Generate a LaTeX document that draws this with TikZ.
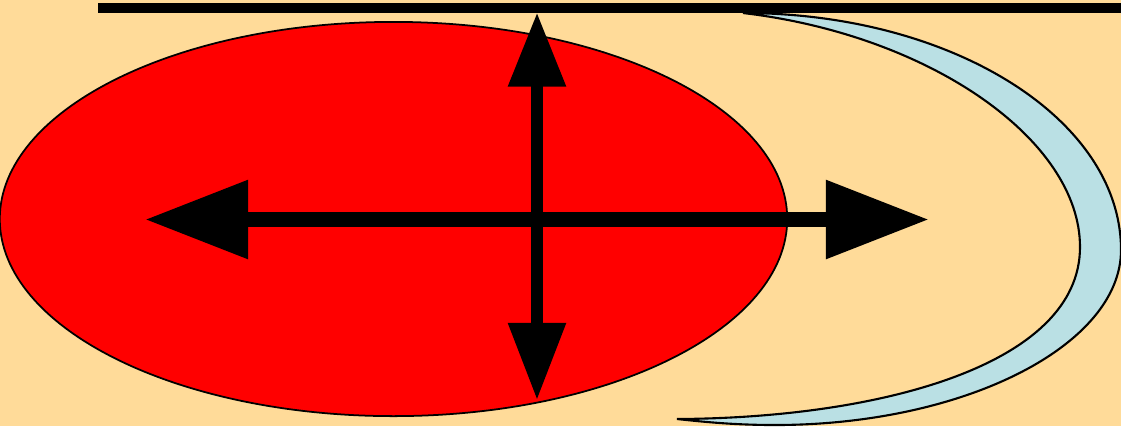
\documentclass[tikz,border=0pt]{standalone}
\usetikzlibrary{arrows.meta, shapes.geometric, positioning}
\definecolor{peach}{RGB}{255,219,153}
\definecolor{paleblue}{RGB}{186,224,228}
\tikzset{
    blob/.style={ellipse, draw=black, fill=red, line width=0.5pt, minimum width=7.87cm, minimum height=3.94cm, inner sep=0pt},
    moon/.style={draw=black, fill=paleblue, line width=0.6pt},
    bar/.style={line width=2.85pt},
    wide/.style={{Triangle[length=1.03cm, width=0.75cm]}-{Triangle[length=1.03cm, width=0.75cm]}, line width=4.4pt},
    tall/.style={{Triangle[length=0.74cm, width=0.55cm]}-{Triangle[length=0.77cm, width=0.55cm]}, line width=3.4pt},
}

\begin{document}
\begin{tikzpicture}[x=0.01cm, y=-0.01cm]
        \useasboundingbox (0,0) rectangle (1121,426);
        \fill[peach] (0,0) rectangle (1121,426);

        % Nodes
        \node[blob] (body) at (393.5,219) {};
        \coordinate (west) at (145,219.5);
        \coordinate (east) at (929,219.5);
        \coordinate (top) at (537,12.5);
        \coordinate (bottom) at (537,400);
        \coordinate (barl) at (98,8);
        \coordinate (barr) at (1121,8);

        % Crescent
        \draw[moon] (743,13) .. controls (952,13) and (1121,119) .. (1121,250)
            .. controls (1121,345) and (965,425) .. (775,425)
            .. controls (735,425) and (705,422) .. (677,419)
            .. controls (880,418) and (1080,365) .. (1080,247)
            .. controls (1080,140) and (930,35) .. cycle;

        % Arrows
        \draw[bar] (barl) -- (barr);
        \draw[wide] (west) -- (east);
        \draw[tall] (top) -- (bottom);
    \end{tikzpicture}
\end{document}
